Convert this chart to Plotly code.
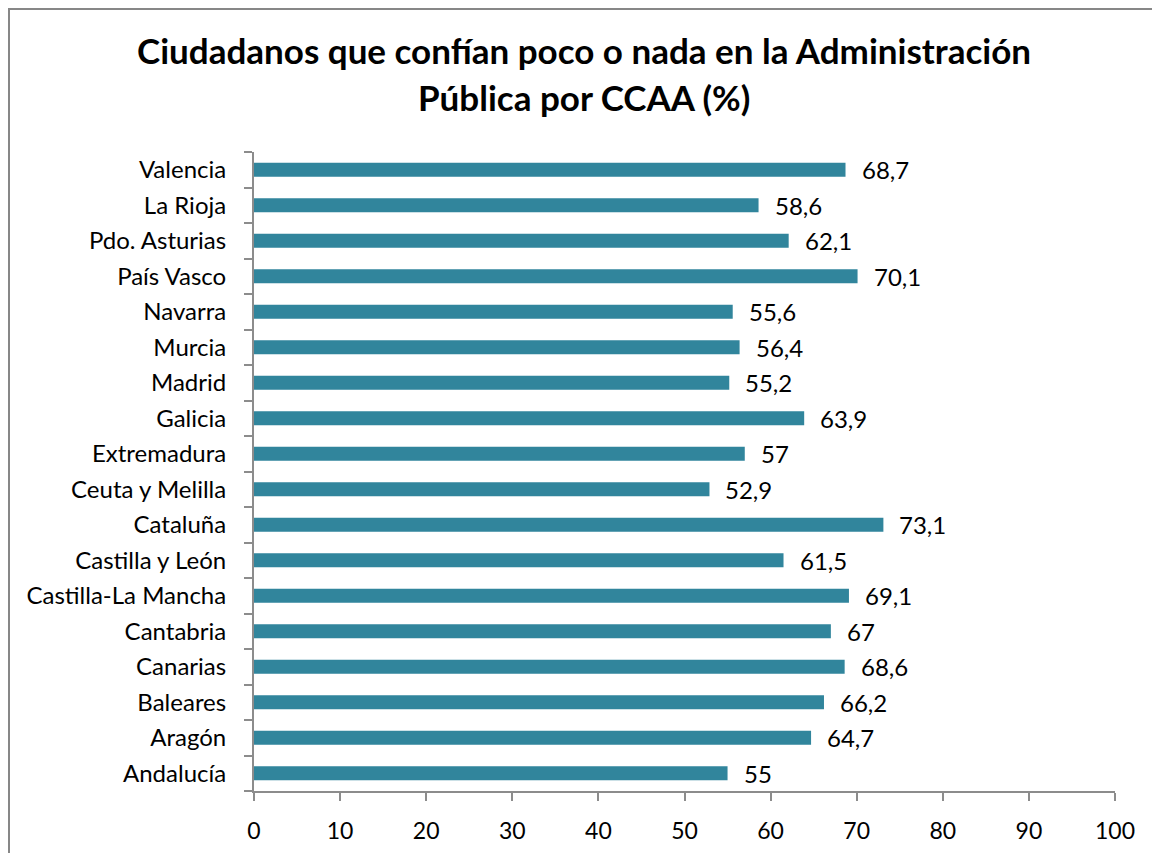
import plotly.graph_objects as go

categories = ["Andalucía", "Aragón", "Baleares", "Canarias", "Cantabria",
              "Castilla-La Mancha", "Castilla y León", "Cataluña", "Ceuta y Melilla",
              "Extremadura", "Galicia", "Madrid", "Murcia", "Navarra", "País Vasco",
              "Pdo. Asturias", "La Rioja", "Valencia"]
values = [55, 64.7, 66.2, 68.6, 67, 69.1, 61.5, 73.1, 52.9, 57, 63.9, 55.2,
          56.4, 55.6, 70.1, 62.1, 58.6, 68.7]
labels = [f"{v:g}".replace(".", ",") for v in values]
x_ticks = list(range(0, 101, 10))

FONT = "Lato"
AXIS = "#8c8c8c"
W, H = 1160, 853
L, R, T, B = 246, 53, 144, 70
pw, ph = W - L - R, H - T - B

fig = go.Figure()
fig.add_trace(go.Bar(
    x=values, y=categories, orientation="h",
    marker=dict(color="#31859C", line=dict(width=0)),
    width=0.4, hoverinfo="skip",
))

for c, v, t in zip(categories, values, labels):
    fig.add_annotation(x=v, y=c, text=t, showarrow=False, xanchor="left",
                       xshift=14, font=dict(family=FONT, size=24, color="#000"))

cx = (576 - L) / pw
fig.add_annotation(xref="paper", yref="paper", x=cx, y=(H - B - 42) / ph,
                   text="<b>Ciudadanos que confían poco o nada en la Administración</b>",
                   showarrow=False, xanchor="center", yanchor="middle",
                   font=dict(family=FONT, size=35, color="#000"))
fig.add_annotation(xref="paper", yref="paper", x=cx, y=(H - B - 89) / ph,
                   text="<b>Pública por CCAA (%)</b>",
                   showarrow=False, xanchor="center", yanchor="middle",
                   font=dict(family=FONT, size=35, color="#000"))

fig.add_shape(type="rect", xref="paper", yref="paper",
              x0=(1 - L) / pw, x1=(W + 20 - L) / pw,
              y0=(H - B - (H + 20)) / ph, y1=(H - B - 1) / ph,
              line=dict(color="#878787", width=2), fillcolor="rgba(0,0,0,0)")

fig.update_layout(
    width=W, height=H,
    margin=dict(l=L, r=R, t=T, b=B),
    paper_bgcolor="white", plot_bgcolor="white",
    showlegend=False,
    font=dict(family=FONT, size=24, color="#000"),
    xaxis=dict(range=[0, 100], tickvals=x_ticks, showgrid=False, zeroline=False,
               showline=True, linecolor=AXIS, linewidth=2,
               ticks="outside", ticklen=8, tickwidth=2, tickcolor=AXIS,
               tickfont=dict(family=FONT, size=23, color="#000"),
               ticklabelstandoff=10, fixedrange=True),
    yaxis=dict(categoryorder="array", categoryarray=categories,
               range=[-0.5, len(categories) - 0.5],
               showgrid=False, zeroline=False,
               showline=True, linecolor=AXIS, linewidth=2,
               ticks="outside", ticklen=8, tickwidth=2, tickcolor=AXIS,
               tickson="boundaries",
               tickfont=dict(family=FONT, size=24, color="#000"),
               ticklabelstandoff=21, fixedrange=True),
)

fig.write_html("out.html")
